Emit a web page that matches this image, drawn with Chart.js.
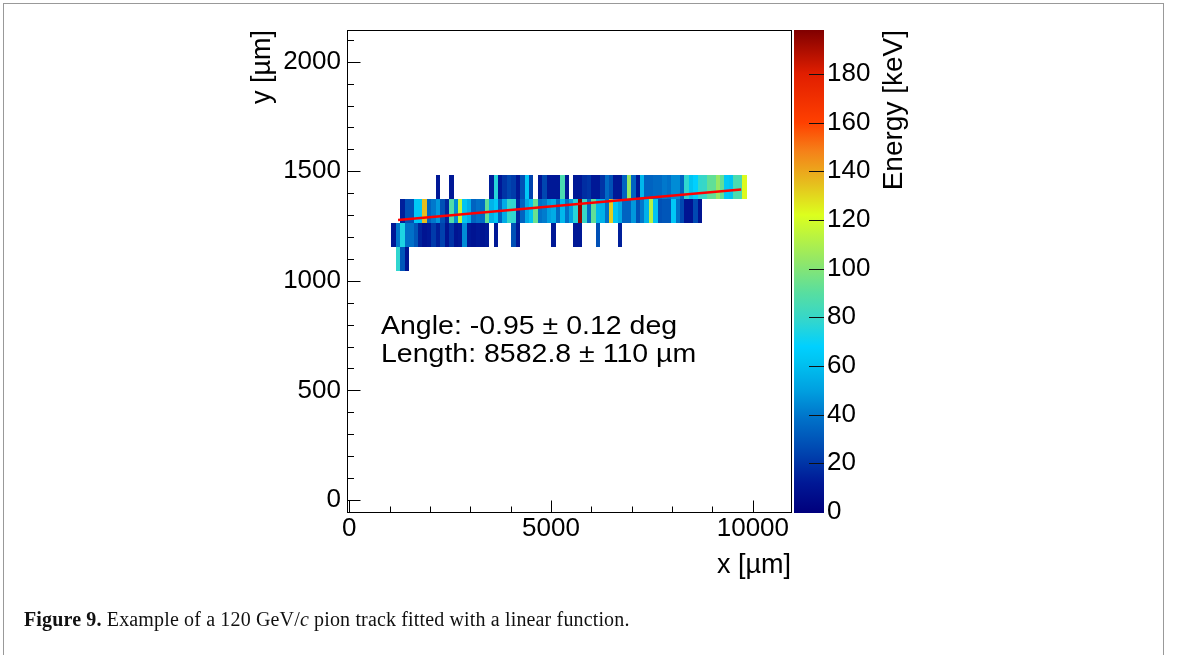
<!DOCTYPE html>
<html>
<head>
<meta charset="utf-8">
<script src="https://cdn.jsdelivr.net/npm/chart.js@4.4.1/dist/chart.umd.min.js"></script>
<style>
  html, body { margin: 0; padding: 0; background: #fff; }
  #wrap { position: relative; width: 1179px; height: 655px; overflow: hidden; }
  #borda { position: absolute; left: 3px; top: 3px; width: 1159px; height: 700px; border: 1px solid #999; }
  #grafico { position: absolute; left: 0; top: 0; }
  #legenda { position: absolute; left: 24px; top: 609px; font-family: "Liberation Serif", serif; font-size: 20px; line-height: 20px; letter-spacing: 0.15px; color: #111; white-space: nowrap; }
</style>
</head>
<body>
<div id="wrap">
  <div id="borda"></div>
  <canvas id="grafico" width="1179" height="655"></canvas>
  <div id="legenda"><b>Figure 9.</b> Example of a 120 GeV/<i>c</i> pion track fitted with a linear function.</div>
</div>
<script>
// tamanho do pixel do detector (µm) e faixas dos eixos
const tamanhoBin = 110;
const faixaX = [-55, 10945];
const faixaY = [-55, 2145];
const faixaEnergia = [0, 198];

const ticksX = [0, 5000, 10000];
const ticksY = [0, 500, 1000, 1500, 2000];
const ticksEnergia = [0, 20, 40, 60, 80, 100, 120, 140, 160, 180];

// linhas de pixels do traço (centro em y) e o primeiro bin em x de cada uma
const linhasY = [1100, 1210, 1320, 1430];
const binInicial = [11, 10, 12, 20];

// energia depositada (keV) em cada pixel, null = pixel vazio
const energia1100 = [78, 30, 10];
const energia1210 = [12, 40, 74, 38, 38, 30, 15, 10, 12, 22,
  14, 24, 10, 20, 10, 12, 45, 12, 10, 12,
  10, 12, null, 12, null, null, null, 28, 12, null,
  null, null, null, null, null, null, 12, null, null, null,
  null, 12, 12, null, null, null, 28, null, null, null,
  null, 14];
const energia1320 = [14, 28, 28, 64, 64, 135, 34, 40, 48, 28,
  16, 88, 45, 115, 62, 55, 34, 38, 36, 92,
  56, 64, 34, 54, 80, 78, 16, 34, 53, 62,
  94, 38, 41, 50, 54, 36, 58, 38, 50, 76,
  195, 80, 36, 92, 58, 56, 38, 132, 62, 53,
  34, 34, 48, 28, 40, 56, 112, 62, 28, 30,
  30, 64, 38, 26, 10, 10, 26, 10];
const energia1430 = [12, null, null, 12, null, null, null, null, null, null, null, null,
  14, 76, 12, 20, 25, 22, 12, 28, 64, 24,
  null, 12, 25, 12, 12, 12, 86, 12, null, 12,
  12, 18, 20, 12, 12, 20, 36, 28, 12, 12,
  34, 104, 34, 12, 58, 34, 34, 36, 36, 40,
  38, 45, 45, 34, 78, 62, 68, 79, 80, 92,
  92, 104, 92, 64, 62, 86, 86, 123];
const energias = [energia1100, energia1210, energia1320, energia1430];

// reta ajustada (início e fim em µm)
const ajusteX = [1210, 9710];
const ajusteY = [1278, 1417];

const textoAngulo = "Angle: -0.95 \u00b1 0.12 deg";
const textoComprimento = "Length: 8582.8 \u00b1 110 \u00b5m";

// paleta tipo "rainbow" do ROOT (keV -> rgb)
const paleta = [
  [0, [0, 0, 125]], [12, [0, 24, 150]], [25, [0, 70, 176]], [38, [0, 112, 200]],
  [50, [0, 160, 224]], [62, [0, 196, 242]], [68, [0, 208, 255]], [78, [48, 214, 208]],
  [90, [88, 222, 160]], [104, [150, 232, 100]], [122, [220, 255, 30]], [135, [230, 190, 30]],
  [148, [245, 130, 25]], [160, [255, 64, 0]], [180, [225, 30, 0]], [198, [128, 0, 0]]
];

function corDaEnergia(e) {
  for (let i = 1; i < paleta.length; i++) {
    if (e <= paleta[i][0] || i === paleta.length - 1) {
      const [e0, c0] = paleta[i - 1];
      const [e1, c1] = paleta[i];
      const t = Math.max(0, Math.min(1, (e - e0) / (e1 - e0)));
      const c = c0.map((v, k) => Math.round(v + (c1[k] - v) * t));
      return `rgb(${c[0]},${c[1]},${c[2]})`;
    }
  }
}

const fonte = "'Liberation Sans', Arial, sans-serif";

// sem folgas extras nos eixos, a área do gráfico fica fixa
function semFolga(axis) {
  axis.paddingTop = 0;
  axis.paddingBottom = 0;
  axis.paddingLeft = 0;
  axis.paddingRight = 0;
}

// desenha os pixels do histograma 2D usando as escalas do gráfico
const pluginMapa = {
  id: "mapaPixels",
  beforeDatasetsDraw(chart) {
    const { ctx, scales: { x, y } } = chart;
    ctx.save();
    linhasY.forEach((yc, r) => {
      const topo = Math.round(y.getPixelForValue(yc + tamanhoBin / 2));
      const base = Math.round(y.getPixelForValue(yc - tamanhoBin / 2));
      energias[r].forEach((e, k) => {
        if (e === null) return;
        const xc = (binInicial[r] + k) * tamanhoBin;
        const esq = Math.round(x.getPixelForValue(xc - tamanhoBin / 2));
        const dir = Math.round(x.getPixelForValue(xc + tamanhoBin / 2));
        ctx.fillStyle = corDaEnergia(e);
        ctx.fillRect(esq, topo, dir - esq, base - topo);
      });
    });
    ctx.restore();
  }
};

// moldura, marcas dos eixos, barra de cores e textos
const pluginMoldura = {
  id: "moldura",
  afterDraw(chart) {
    const { ctx, chartArea: a, scales: { x, y, z } } = chart;
    ctx.save();
    ctx.strokeStyle = "#000";
    ctx.lineWidth = 1;
    const L = Math.round(a.left) + 0.5, R = Math.round(a.right) + 0.5;
    const T = Math.round(a.top) + 0.5, B = Math.round(a.bottom) + 0.5;
    ctx.strokeRect(L, T, R - L, B - T);

    ctx.beginPath();
    for (let v = 0; v <= x.max; v += 1000) {
      const px = Math.round(x.getPixelForValue(v)) + 0.5;
      const len = ticksX.includes(v) ? 12 : 6;
      ctx.moveTo(px, B); ctx.lineTo(px, B - len);
    }
    for (let v = 0; v <= y.max; v += 100) {
      const py = Math.round(y.getPixelForValue(v)) + 0.5;
      const len = ticksY.includes(v) ? 13 : 6.5;
      ctx.moveTo(L, py); ctx.lineTo(L + len, py);
    }
    ctx.stroke();

    // barra de cores
    const barraEsq = Math.round(a.right) + 3, barraDir = barraEsq + 30;
    const g = ctx.createLinearGradient(0, z.getPixelForValue(z.min), 0, z.getPixelForValue(z.max));
    paleta.forEach(([e, c]) => g.addColorStop(e / z.max, `rgb(${c.join(",")})`));
    ctx.fillStyle = g;
    ctx.fillRect(barraEsq, Math.round(a.top), barraDir - barraEsq, Math.round(a.bottom - a.top) + 1);
    ctx.strokeStyle = "#111";
    ctx.beginPath();
    ticksEnergia.forEach(v => {
      if (v === 0) return;
      const py = Math.round(z.getPixelForValue(v)) + 0.5;
      ctx.moveTo(barraDir, py); ctx.lineTo(barraDir - 15, py);
    });
    ctx.stroke();

    // título da barra de cores
    ctx.fillStyle = "#000";
    ctx.save();
    ctx.translate(902, Math.round(a.top));
    ctx.rotate(-Math.PI / 2);
    ctx.font = "28px " + fonte;
    ctx.textAlign = "right";
    ctx.textBaseline = "alphabetic";
    ctx.fillText("Energy [keV]", 0, 0);
    ctx.restore();

    // resultado do ajuste
    ctx.save();
    ctx.font = "25px " + fonte;
    ctx.textAlign = "left";
    ctx.textBaseline = "alphabetic";
    ctx.translate(381, 0);
    ctx.scale(1.14, 1);
    ctx.fillText(textoAngulo, 0, 334);
    ctx.fillText(textoComprimento, 0, 361.5);
    ctx.restore();

    ctx.restore();
  }
};

const ctx = document.getElementById("grafico").getContext("2d");

new Chart(ctx, {
  type: "scatter",
  data: {
    datasets: [
      {
        label: "ajuste linear",
        data: ajusteX.map((v, i) => ({ x: v, y: ajusteY[i] })),
        showLine: true,
        borderColor: "#ff0000",
        borderWidth: 2.5,
        pointRadius: 0,
        xAxisID: "x",
        yAxisID: "y",
      },
    ],
  },
  options: {
    responsive: false,
    animation: false,
    devicePixelRatio: 1,
    layout: { padding: { left: 0, top: 30, right: 268, bottom: 0 } },
    plugins: {
      legend: { display: false },
      tooltip: { enabled: false },
    },
    scales: {
      x: {
        type: "linear",
        position: "bottom",
        min: faixaX[0],
        max: faixaX[1],
        grid: { display: false, drawTicks: false },
        border: { display: false },
        ticks: { color: "#000", font: { family: fonte, size: 26 }, padding: 1, maxRotation: 0, autoSkip: false, callback: (v) => String(v) },
        afterBuildTicks: (axis) => { axis.ticks = ticksX.map(v => ({ value: v })); },
        afterFit: (axis) => { axis.height = 143; semFolga(axis); },
        title: {
          display: true, text: "x [\u00b5m]", align: "end", color: "#000",
          font: { family: fonte, size: 27, lineHeight: 1 }, padding: { top: 0, bottom: 76 },
        },
      },
      y: {
        type: "linear",
        position: "left",
        min: faixaY[0],
        max: faixaY[1],
        grid: { display: false, drawTicks: false },
        border: { display: false },
        ticks: { color: "#000", font: { family: fonte, size: 26 }, padding: 6, autoSkip: false, callback: (v) => String(v) },
        afterBuildTicks: (axis) => { axis.ticks = ticksY.map(v => ({ value: v })); },
        afterFit: (axis) => { axis.width = 347; semFolga(axis); },
        title: {
          display: true, text: "y [\u00b5m]", align: "end", color: "#000",
          font: { family: fonte, size: 27, lineHeight: 1 }, padding: { top: 249, bottom: 0 },
        },
      },
      z: {
        axis: "y",
        type: "linear",
        position: "right",
        min: faixaEnergia[0],
        max: faixaEnergia[1],
        grid: { display: false, drawTicks: false },
        border: { display: false },
        ticks: { color: "#000", font: { family: fonte, size: 26 }, padding: 36, autoSkip: false, callback: (v) => String(v) },
        afterBuildTicks: (axis) => { axis.ticks = ticksEnergia.map(v => ({ value: v })); },
        afterFit: (axis) => { axis.width = 120; semFolga(axis); },
      },
    },
  },
  plugins: [pluginMapa, pluginMoldura],
});
</script>
</body>
</html>
